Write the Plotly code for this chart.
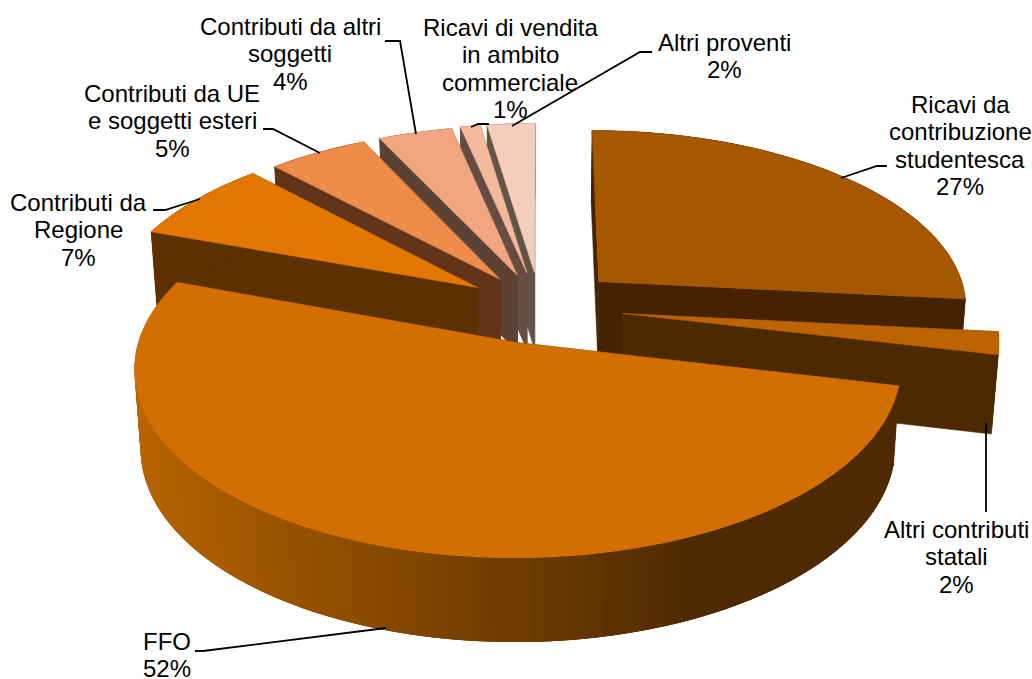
import math
import plotly.graph_objects as go

# ---- data ----
categories = [["Ricavi da", "contribuzione", "studentesca"], ["Altri contributi", "statali"], ["FFO"],
              ["Contributi da", "Regione"], ["Contributi da UE", "e soggetti esteri"],
              ["Contributi da altri", "soggetti"], ["Ricavi di vendita", "in ambito", "commerciale"],
              ["Altri proventi"]]
values = [26.6, 2.0, 51.9, 7.4, 5.0, 3.7, 1.0, 2.4]
pulls = [0.218, 0.225, 0.205, 0.205, 0.195, 0.195, 0.2, 0.2]
top_colors = ["#a55800", "#bd6402", "#d26e02", "#e27802", "#ee8b4a", "#f2a680", "#f3b99d", "#f5cdbd"]
cut_colors = ["#452300", "#4d2900", "#4f2a00", "#5c3000", "#62351b", "#5c4233", "#654d42", "#635448"]
draw_order = [7, 6, 5, 4, 3, 0, 1, 2]

# label centre x / first-line y, and leader lines (annotation layout)
label_pos = [(960, 104), (956, 529), (167, 641), (78, 202), (172, 93), (290, 26), (510, 27), (724, 42)]
leaders = [
    [(841, 178), (877, 166), (887, 166)],
    [(986, 423), (986, 512)],
    [(386, 628), (203, 651), (195, 651)],
    [(200, 199), (165, 210), (153, 210)],
    [(320, 153), (273, 129), (263, 129)],
    [(416, 134), (400, 41), (385, 41)],
    [(471, 127), (478, 124), (489, 124)],
    [(512, 126), (640, 52), (652, 52)],
]

# ---- projection of the tilted pie ----
CX, CY, R, RY, P, H, SHRINK = 540, 307, 370, 177, 0.13, 78, 0.985
FONT = 24
LINE = 27.6


def project(u, v):
    s = 1 / (1 - P * v)
    return CX + R * u * s, CY + RY * v * s


def lower(pt):
    x, y = pt
    return CX + (x - CX) * SHRINK, y + H + (y - CY) * 0.025


def lerp_hex(a, b, t):
    ca = [int(a[i:i + 2], 16) for i in (1, 3, 5)]
    cb = [int(b[i:i + 2], 16) for i in (1, 3, 5)]
    return "rgb(%d,%d,%d)" % tuple(round(p + (q - p) * t) for p, q in zip(ca, cb))


def poly(fig, pts, color, lw=0.6):
    fig.add_trace(go.Scatter(
        x=[p[0] for p in pts] + [pts[0][0]], y=[p[1] for p in pts] + [pts[0][1]],
        mode="lines", fill="toself", fillcolor=color,
        line=dict(color=color, width=lw), hoverinfo="skip", showlegend=False))


fig = go.Figure()
total = sum(values)
starts = [sum(values[:i]) / total * 2 * math.pi for i in range(len(values))]

for i in draw_order:
    a0 = starts[i]
    a1 = a0 + values[i] / total * 2 * math.pi
    mid = (a0 + a1) / 2
    ou, ov = pulls[i] * math.sin(mid), -pulls[i] * math.cos(mid)
    apex = project(ou, ov)
    n = max(4, int(values[i] * 3))
    thetas = [a0 + (a1 - a0) * k / n for k in range(n + 1)]
    rim = [project(ou + math.sin(t), ov - math.cos(t)) for t in thetas]

    # cut faces: the one further back first
    faces = sorted([rim[0], rim[-1]], key=lambda c: c[1])
    for corner in faces:
        poly(fig, [apex, corner, lower(corner), lower(apex)], cut_colors[i])

    # outer wall, shaded along x; neighbouring pieces overlap so no seam shows
    for k in sorted(range(n), key=lambda k: rim[k][1]):
        xm = (rim[k][0] + rim[k + 1][0]) / 2
        if i == 2:
            color = lerp_hex("#b86400", "#4f2a00", min(1, max(0, (xm - 133) / (680 - 133))))
        else:
            color = cut_colors[i]
        j = min(n, k + 2)
        h = max(0, k - 1)
        poly(fig, [rim[h], rim[k], rim[j], lower(rim[j]), lower(rim[k]), lower(rim[h])], color, 0)

    # top face
    poly(fig, [apex] + rim, top_colors[i])

shapes = [dict(type="path", xref="x", yref="y",
               path="M " + " L ".join(f"{x},{y}" for x, y in pts),
               line=dict(color="black", width=1.8)) for pts in leaders]

annotations = []
for c, v, (x, y) in zip(categories, values, label_pos):
    for n_line, text in enumerate(c + [f"{round(v)}%"]):
        annotations.append(dict(x=x, y=y + n_line * LINE, xref="x", yref="y", showarrow=False,
                                text=text, xanchor="center", yanchor="middle",
                                font=dict(family="Liberation Sans", size=FONT, color="black")))

fig.update_layout(width=1032, height=679, margin=dict(l=0, r=0, t=0, b=0),
                  paper_bgcolor="white", plot_bgcolor="white", showlegend=False,
                  xaxis=dict(range=[0, 1032], visible=False, fixedrange=True),
                  yaxis=dict(range=[679, 0], visible=False, fixedrange=True),
                  shapes=shapes, annotations=annotations)
fig.write_html("out.html", config={"displayModeBar": False},
               post_script="document.body.style.margin='0';")
